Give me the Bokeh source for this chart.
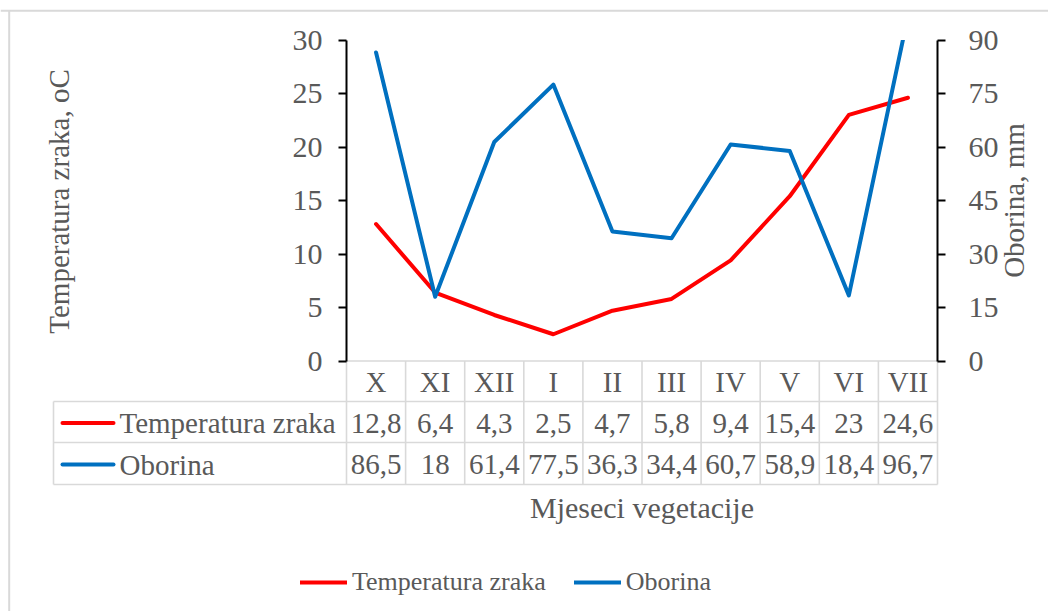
import numpy as np
from math import pi
from bokeh.plotting import figure
from bokeh.models import (Range1d, LinearAxis, SingleIntervalTicker,
                          Legend, LegendItem)
from bokeh.embed import file_html
from bokeh.resources import INLINE
from bokeh.core.properties import value

# ---------------- data ----------------
months = ["X", "XI", "XII", "I", "II", "III", "IV", "V", "VI", "VII"]
temperatura = [12.8, 6.4, 4.3, 2.5, 4.7, 5.8, 9.4, 15.4, 23, 24.6]
oborina = [86.5, 18, 61.4, 77.5, 36.3, 34.4, 60.7, 58.9, 18.4, 96.7]
series_names = ["Temperatura zraka", "Oborina"]
temp_max, temp_step = 30, 5
rain_max, rain_step = 90, 15
x_title = "Mjeseci vegetacije"
y_title = "Temperatura zraka, oC"
y2_title = "Oborina, mm"

# ---------------- style / layout ----------------
FONT = "Liberation Serif"
GREY = "#595959"
RED = "#ff0000"
BLUE = "#0070c0"
GRID = "#d9d9d9"

# page geometry (page pixels); the figure canvas spans CL..CR x CT..CB
CL, CT = 0, 0
W, H = 1048, 611
CR, CB = CL + W, CT + H
PL, PR, PT, PB = 346, 937, 39.5, 360.5   # plot area
N = len(months)
COL = (PR - PL) / N
KT = temp_max / (PB - PT)                # temperature units per pixel


def tx(px):      # page x -> x data units
    return (px - PL) / COL


def ty(py):      # page y -> temperature data units
    return (PB - py) * KT


xs = np.arange(N) + 0.5


def fmt(v):
    return f"{v:g}".replace(".", ",")


p = figure(width=W, height=H,
           x_range=Range1d(tx(CL), tx(CR)),
           y_range=Range1d(ty(CB), ty(CT)),
           output_backend="svg", toolbar_location=None,
           x_axis_location=None, y_axis_location=None,
           min_border=0, min_border_left=0, min_border_right=0,
           min_border_top=0, min_border_bottom=0)
p.outline_line_color = None
p.grid.visible = False
p.extra_y_ranges = {"rain": Range1d(ty(CB) * rain_max / temp_max,
                                    ty(CT) * rain_max / temp_max)}


def style_axis(ax, standoff):
    ax.axis_line_color = "black"
    ax.axis_line_width = 2
    ax.major_tick_line_color = "black"
    ax.major_tick_line_width = 2
    ax.major_tick_in = 0
    ax.major_tick_out = 8
    ax.minor_tick_line_color = None
    ax.major_label_text_font = FONT
    ax.major_label_text_font_size = "30px"
    ax.major_label_text_color = GREY
    ax.major_label_standoff = standoff


yl = LinearAxis(ticker=SingleIntervalTicker(interval=temp_step),
                fixed_location=0, bounds=(0, temp_max))
style_axis(yl, 16)
p.add_layout(yl, "left")
yr = LinearAxis(y_range_name="rain", ticker=SingleIntervalTicker(interval=rain_step),
                fixed_location=N, bounds=(0, rain_max))
style_axis(yr, 23)
p.add_layout(yr, "right")

r_temp = p.line(xs, temperatura, line_color=RED, line_width=4,
                line_join="round", line_cap="round")
r_rain = p.line(xs, oborina, y_range_name="rain", line_color=BLUE, line_width=4,
                line_join="round", line_cap="round")

# values above the axis maximum are clipped at the plot-area top
p.quad(left=[0], right=[N], bottom=[temp_max], top=[ty(12)],
       fill_color="white", line_color=None)

# chart border (top / left)
p.segment(x0=[tx(CL), tx(8.7)], y0=[ty(10.3), ty(10.3)],
          x1=[tx(CR), tx(8.7)], y1=[ty(10.3), ty(CB)],
          line_color=GRID, line_width=2)

# axis titles
tt = dict(text_font=value(FONT), text_font_size=value("29px"), text_color=GREY,
          text_align="center", text_baseline="middle")
p.text(x=[tx(58)], y=[ty(201)], text=[y_title], angle=pi / 2, **tt)
p.text(x=[tx(1013)], y=[ty(200)], text=[y2_title], angle=pi / 2, **tt)

# ---------------- data table ----------------
NAME_X = tx(53)
ROWS = [ty(v) for v in (360.5, 401, 442, 484)]
p.segment(x0=[0, NAME_X, NAME_X, NAME_X], y0=ROWS, x1=[N] * 4, y1=ROWS,
          line_color=GRID, line_width=1.6)
vx = list(range(N + 1))
p.segment(x0=vx, y0=[ROWS[0]] * len(vx), x1=vx, y1=[ROWS[-1]] * len(vx),
          line_color=GRID, line_width=1.6)
p.segment(x0=[NAME_X], y0=[ROWS[1]], x1=[NAME_X], y1=[ROWS[-1]],
          line_color=GRID, line_width=1.6)

row_c = [ty(381), ty(422.5), ty(464)]
tk = dict(text_font=value(FONT), text_font_size=value("29px"), text_color=GREY,
          text_align="center", text_baseline="middle")
p.text(x=xs, y=[row_c[0]] * N, text=months, **tk)
p.text(x=xs, y=[row_c[1]] * N, text=[fmt(v) for v in temperatura], **tk)
p.text(x=xs, y=[row_c[2]] * N, text=[fmt(v) for v in oborina], **tk)

p.segment(x0=[tx(62)] * 2, y0=row_c[1:], x1=[tx(113)] * 2, y1=row_c[1:],
          line_color=[RED, BLUE], line_width=4, line_cap="round")
p.text(x=[tx(119)] * 2, y=row_c[1:], text=series_names,
       text_font=value(FONT), text_font_size=value("29px"), text_color=GREY,
       text_align="left", text_baseline="middle")

p.text(x=[N / 2], y=[ty(507)], text=[x_title],
       text_font=value(FONT), text_font_size=value("30px"), text_color=GREY,
       text_align="center", text_baseline="middle")

# ---------------- legend ----------------
legend = Legend(items=[LegendItem(label=series_names[0], renderers=[r_temp]),
                       LegendItem(label=series_names[1], renderers=[r_rain])],
                orientation="horizontal", location=(300 - CL, CB - 597),
                glyph_width=47, glyph_height=20, label_standoff=5, spacing=28,
                padding=0, margin=0, border_line_color=None, background_fill_alpha=0,
                label_text_font=FONT, label_text_font_size="26px",
                label_text_color=GREY)
p.add_layout(legend)

open("out.html", "w").write(file_html(p, INLINE))
